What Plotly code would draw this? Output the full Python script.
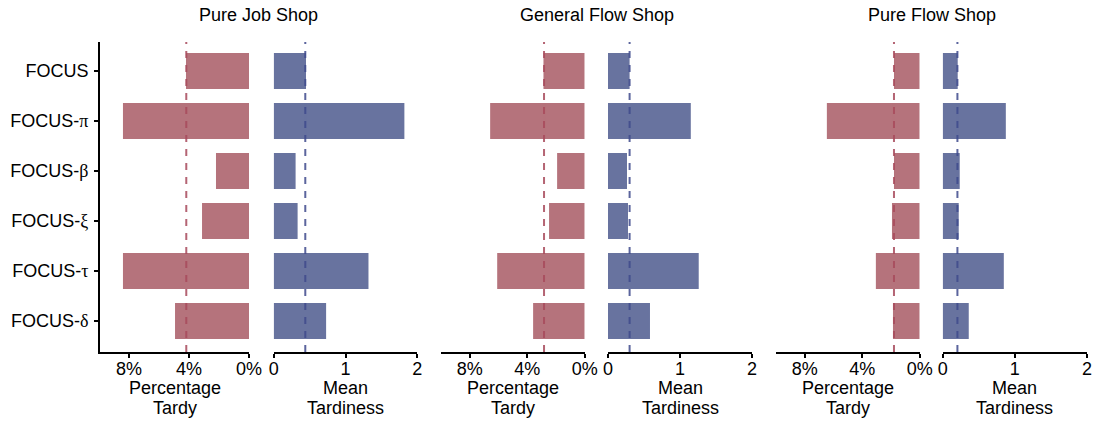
import plotly.graph_objects as go

methods = ["FOCUS", "FOCUS-π", "FOCUS-β", "FOCUS-ξ", "FOCUS-τ", "FOCUS-δ"]
shops = ["Pure Job Shop", "General Flow Shop", "Pure Flow Shop"]

# Percentage tardy (%)
pt_job = [4.2, 8.4, 2.2, 3.13, 8.4, 4.93]
pt_general = [2.87, 6.58, 1.92, 2.48, 6.09, 3.59]
pt_flow = [1.79, 6.46, 1.79, 1.93, 3.05, 1.86]
pt_ref = [4.18, 2.83, 1.79]

# Mean tardiness
mt_job = [0.45, 1.82, 0.305, 0.333, 1.32, 0.73]
mt_general = [0.30, 1.15, 0.264, 0.278, 1.26, 0.583]
mt_flow = [0.208, 0.875, 0.236, 0.222, 0.847, 0.361]
mt_ref = [0.44, 0.30, 0.204]

pt_ticks = [8, 4, 0]
pt_ticktext = ["8%", "4%", "0%"]
mt_ticks = [0, 1, 2]

W, H = 1096, 421
RED = "#b5737c"
BLUE = "#68739f"
RED_DASH = "#a84a5c"
BLUE_DASH = "#3f4a8c"
FONT = "Liberation Sans, Arial, sans-serif"
FS = 18

# pixel extents of each axis (layout only)
pt_px = [(100, 249), (441, 584.7), (776, 919.7)]
pt_max = [9.93, 10.0, 10.0]
mt_px = [(273.7, 417.3), (608, 752), (942.7, 1087)]

pt_all = [pt_job, pt_general, pt_flow]
mt_all = [mt_job, mt_general, mt_flow]

idx = list(range(len(methods)))


def label(m):
    if "-" in m:
        base, g = m.split("-")
        return f"{base}-<span style='font-family:Liberation Serif, DejaVu Serif, serif'>{g}</span>"
    return m


fig = go.Figure()
layout = dict(
    width=W, height=H, autosize=False,
    margin=dict(l=0, r=0, t=42, b=69, pad=0),
    paper_bgcolor="white", plot_bgcolor="white",
    showlegend=False, bargap=0.28,
    font=dict(family=FONT, size=FS, color="black"),
)
annotations = []
shapes = []

for p in range(3):
    xa_pt = 2 * p + 1
    xa_mt = 2 * p + 2
    xn_pt = "x" if xa_pt == 1 else f"x{xa_pt}"
    xn_mt = f"x{xa_mt}"
    fig.add_trace(go.Bar(x=pt_all[p], y=idx, orientation="h", marker=dict(color=RED, line=dict(width=0)),
                         width=0.72, xaxis=xn_pt, yaxis="y", name="Percentage Tardy"))
    fig.add_trace(go.Bar(x=mt_all[p], y=idx, orientation="h", marker=dict(color=BLUE, line=dict(width=0)),
                         width=0.72, xaxis=xn_mt, yaxis="y", name="Mean Tardiness"))
    axis_style = dict(showgrid=False, zeroline=False, showline=True, linecolor="black", linewidth=2,
                      ticks="outside", ticklen=4, tickwidth=1.5, tickcolor="black", automargin=False,
                      ticklabelstandoff=-5,
                      tickfont=dict(size=FS, family=FONT, color="black"), anchor="y", fixedrange=True)
    a, b = pt_px[p]
    layout["xaxis" if xa_pt == 1 else f"xaxis{xa_pt}"] = dict(
        domain=[a / W, b / W], range=[pt_max[p], 0], tickvals=pt_ticks, ticktext=pt_ticktext, **axis_style)
    c, d = mt_px[p]
    layout[f"xaxis{xa_mt}"] = dict(
        domain=[c / W, d / W], range=[0, 2], tickvals=mt_ticks, **axis_style)

    shapes.append(dict(type="line", xref=xn_pt, yref="paper", x0=pt_ref[p], x1=pt_ref[p], y0=0, y1=1,
                       line=dict(color=RED_DASH, width=2, dash="7px,7px"), opacity=0.85, layer="above"))
    shapes.append(dict(type="line", xref=xn_mt, yref="paper", x0=mt_ref[p], x1=mt_ref[p], y0=0, y1=1,
                       line=dict(color=BLUE_DASH, width=2, dash="7px,7px"), opacity=0.85, layer="above"))

    ctr_pt = (a + b) / 2 / W
    ctr_mt = (c + d) / 2 / W
    for txt, x, ys in [("Percentage", ctr_pt, -36), ("Tardy", ctr_pt, -55.5),
                       ("Mean", ctr_mt, -36), ("Tardiness", ctr_mt, -55.5)]:
        annotations.append(dict(text=txt, x=x, y=0, xref="paper", yref="paper", xanchor="center",
                                yanchor="middle", yshift=ys, showarrow=False,
                                font=dict(size=FS, family=FONT, color="black")))
    annotations.append(dict(text=shops[p], x=(a + d) / 2 / W, y=1, xref="paper", yref="paper",
                            xanchor="center", yanchor="middle", yshift=27.5, showarrow=False,
                            font=dict(size=FS, family=FONT, color="black")))

layout["yaxis"] = dict(tickvals=idx, ticktext=[label(m) for m in methods], showline=True, linecolor="black",
                       linewidth=2, ticks="outside", ticklen=4, tickwidth=1.5, tickcolor="black",
                       tickfont=dict(size=FS, family=FONT, color="black"), anchor="x", ticklabelstandoff=2,
                       automargin=False, fixedrange=True, range=[5.62, -0.58], showgrid=False, zeroline=False)
layout["annotations"] = annotations
layout["shapes"] = shapes
fig.update_layout(**layout)
fig.write_html("out.html", config={"displayModeBar": False},
               post_script="document.body.style.margin='0';document.body.style.padding='0';")
